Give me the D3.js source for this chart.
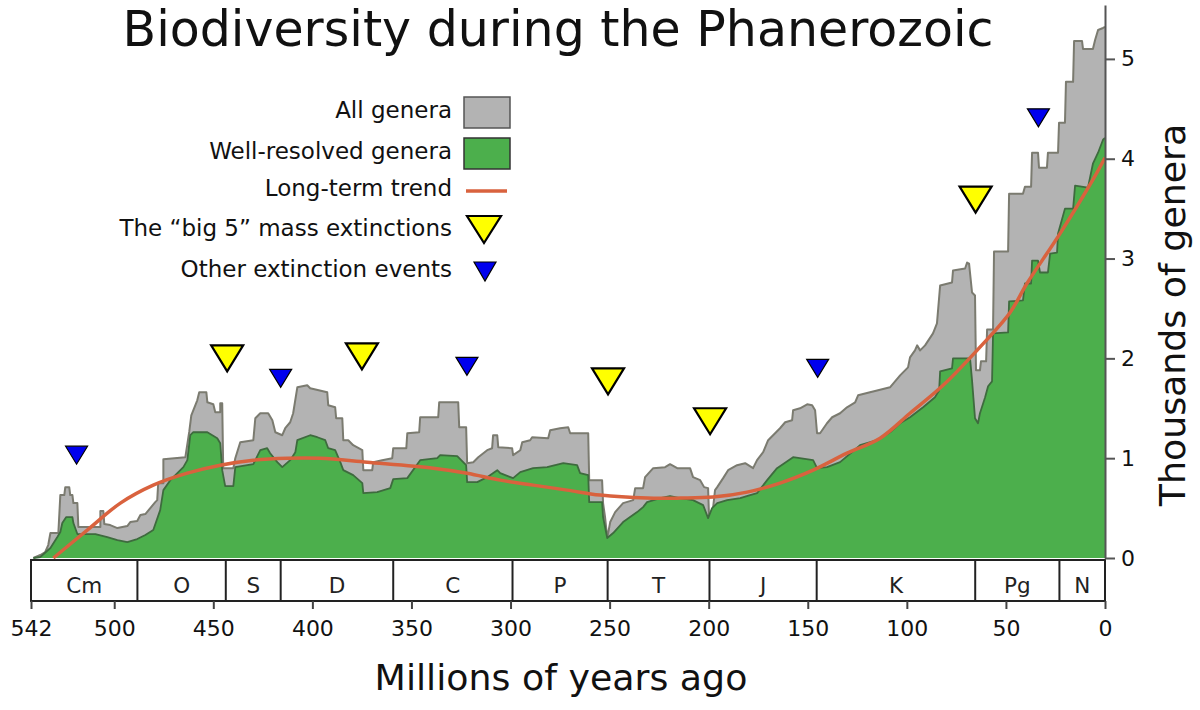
<!DOCTYPE html>
<html><head><meta charset="utf-8">
<script src="https://cdn.jsdelivr.net/npm/d3@7"></script>
<style>body{margin:0;background:#fff} svg{display:block} text{font-family:"DejaVu Sans",sans-serif}</style>
</head><body><svg id="c" width="1200" height="710"></svg>
<script>
// ---- data (Ma, thousands of genera) ----
const allGenera = [[540.8,0],[537.3,0.03],[534.8,0.06],[533.3,0.13],[532.2,0.25],[528.2,0.25],[527.2,0.63],[525.2,0.63],[524.7,0.71],[522.7,0.71],[522.2,0.63],[521.1,0.63],[520.6,0.55],[518.6,0.55],[518.1,0.31],[507.0,0.31],[507.0,0.47],[505.5,0.47],[505.0,0.34],[502.0,0.33],[498.4,0.30],[493.4,0.32],[491.9,0.36],[488.4,0.37],[486.8,0.43],[484.3,0.44],[481.8,0.50],[479.3,0.56],[478.3,0.58],[477.8,0.75],[475.2,0.75],[475.2,0.99],[464.1,1.01],[463.1,1.14],[462.1,1.27],[461.1,1.43],[460.1,1.48],[458.1,1.58],[457.1,1.66],[453.5,1.66],[453.0,1.56],[450.0,1.54],[449.0,1.46],[446.5,1.46],[446.5,1.55],[445.5,1.55],[445.0,0.90],[439.9,0.90],[438.9,1.00],[436.4,1.16],[429.8,1.18],[428.8,1.40],[426.3,1.45],[422.3,1.45],[420.2,1.38],[418.7,1.26],[415.2,1.23],[413.7,1.30],[411.2,1.36],[409.7,1.45],[407.6,1.71],[402.6,1.73],[401.1,1.70],[392.5,1.66],[392.0,1.53],[388.5,1.51],[388.0,1.40],[384.9,1.40],[384.4,1.18],[381.9,1.18],[379.4,1.13],[374.8,1.08],[374.3,0.88],[369.8,0.88],[369.3,0.96],[364.8,0.98],[359.7,1.00],[359.2,1.10],[352.6,1.10],[352.1,1.25],[346.1,1.26],[345.6,1.41],[336.5,1.41],[336.0,1.56],[326.4,1.56],[325.9,1.31],[322.4,1.31],[321.9,0.95],[318.8,0.96],[316.3,1.01],[311.8,1.08],[309.3,1.10],[308.8,1.23],[306.7,1.23],[306.2,1.11],[299.2,1.10],[298.7,1.03],[295.1,1.08],[294.1,1.16],[290.1,1.18],[289.1,1.21],[281.0,1.20],[280.0,1.28],[275.0,1.30],[270.9,1.31],[269.9,1.25],[260.8,1.25],[260.3,0.78],[253.8,0.78],[253.3,0.55],[252.3,0.41],[251.2,0.20],[249.7,0.36],[247.2,0.46],[243.2,0.55],[238.1,0.58],[237.1,0.70],[233.1,0.70],[232.1,0.81],[228.0,0.90],[222.0,0.91],[219.5,0.94],[215.9,0.90],[209.4,0.90],[207.9,0.81],[204.3,0.78],[202.3,0.71],[200.3,0.70],[199.8,0.40],[197.8,0.50],[196.8,0.68],[195.7,0.71],[192.7,0.80],[190.2,0.88],[185.7,0.93],[181.6,0.95],[177.6,0.90],[175.6,0.98],[172.5,1.06],[170.0,1.18],[167.5,1.23],[164.0,1.30],[161.4,1.36],[157.9,1.38],[157.4,1.48],[153.9,1.50],[150.3,1.54],[147.8,1.53],[146.3,1.48],[145.3,1.25],[143.8,1.25],[140.3,1.35],[137.7,1.41],[133.7,1.45],[130.2,1.51],[126.1,1.56],[124.6,1.63],[118.6,1.66],[114.5,1.68],[108.5,1.71],[103.4,1.83],[99.4,1.91],[98.4,2.01],[95.9,2.08],[94.8,2.13],[93.3,2.08],[90.8,2.13],[86.8,2.25],[84.8,2.35],[83.2,2.73],[77.2,2.76],[76.7,2.88],[70.6,2.90],[69.6,2.96],[68.6,2.95],[67.1,2.66],[65.6,2.63],[65.1,1.88],[63.1,1.88],[62.6,1.97],[60.0,1.97],[59.5,2.29],[56.5,2.29],[56.0,3.07],[48.9,3.07],[48.4,3.65],[41.4,3.65],[40.4,3.72],[37.3,3.72],[36.8,4.06],[33.8,4.06],[33.3,3.91],[29.3,3.91],[28.8,4.06],[23.7,4.06],[23.2,4.36],[20.2,4.36],[19.7,4.77],[16.1,4.77],[15.6,5.18],[11.6,5.18],[11.1,5.10],[6.1,5.10],[5.0,5.19],[3.5,5.29],[1.0,5.31],[0,5.32]];

const wellResolved = [[540.8,0],[537.3,0.01],[532.2,0.10],[528.7,0.21],[527.2,0.26],[526.2,0.35],[524.2,0.41],[521.1,0.41],[520.6,0.35],[518.6,0.24],[509.5,0.24],[503.5,0.21],[498.4,0.18],[493.4,0.16],[488.4,0.19],[484.3,0.23],[480.3,0.28],[476.8,0.48],[475.2,0.68],[471.7,0.78],[465.1,0.91],[463.1,0.98],[461.6,1.23],[460.1,1.26],[453.0,1.26],[448.0,1.20],[446.5,1.15],[445.5,0.88],[444.0,0.72],[439.9,0.72],[438.9,0.91],[429.8,0.94],[426.3,1.08],[422.8,1.10],[421.3,1.05],[417.7,0.96],[415.2,0.91],[411.2,0.98],[408.6,1.06],[407.6,1.18],[401.1,1.23],[397.5,1.21],[393.5,1.18],[392.0,1.10],[388.5,1.08],[385.9,0.96],[384.4,0.88],[379.4,0.83],[374.8,0.75],[374.3,0.65],[367.3,0.66],[360.7,0.70],[359.2,0.79],[352.1,0.80],[345.6,0.98],[337.0,1.00],[335.5,1.03],[326.9,1.02],[322.4,0.93],[321.9,0.76],[316.8,0.76],[311.8,0.81],[306.7,0.88],[305.2,0.85],[298.7,0.80],[295.1,0.86],[288.6,0.90],[281.5,0.91],[273.4,0.95],[266.4,0.93],[264.9,0.85],[260.8,0.83],[260.3,0.56],[253.8,0.56],[253.3,0.41],[251.2,0.20],[248.2,0.25],[243.2,0.36],[236.1,0.46],[233.1,0.51],[231.1,0.56],[224.5,0.60],[219.5,0.62],[214.4,0.60],[207.9,0.58],[202.8,0.53],[200.3,0.40],[198.3,0.50],[195.7,0.55],[190.7,0.58],[184.1,0.60],[179.1,0.63],[175.6,0.65],[170.5,0.78],[165.5,0.90],[157.4,1.01],[147.3,0.98],[145.3,0.90],[140.3,0.91],[133.7,0.96],[123.6,1.13],[115.0,1.18],[108.5,1.26],[103.4,1.35],[98.4,1.41],[91.8,1.51],[85.8,1.61],[83.7,1.68],[83.2,1.87],[77.2,1.90],[76.7,2.00],[68.1,2.00],[67.1,1.78],[65.6,1.40],[64.1,1.35],[63.1,1.45],[60.5,1.61],[59.0,1.72],[57.0,1.77],[56.5,2.25],[48.9,2.26],[48.4,2.57],[41.4,2.58],[40.4,2.75],[37.3,2.75],[36.8,2.98],[33.8,2.98],[32.8,2.86],[28.8,2.86],[27.7,3.05],[24.2,3.06],[23.7,3.25],[20.2,3.50],[16.1,3.50],[15.1,3.73],[8.6,3.71],[6.1,3.95],[3.5,4.06],[1.0,4.19],[0,4.21]];

const trend = [[530.7,0],[513.6,0.28],[496.9,0.55],[480.3,0.73],[463.1,0.85],[446.5,0.93],[429.8,0.98],[412.7,1.00],[396.0,1.00],[372.3,0.96],[339.0,0.90],[321.9,0.85],[305.2,0.78],[288.6,0.73],[271.4,0.68],[254.8,0.63],[231.1,0.60],[214.4,0.60],[197.8,0.61],[180.6,0.66],[164.0,0.75],[147.3,0.88],[130.2,1.05],[113.5,1.20],[98.4,1.45],[81.7,1.73],[64.6,2.08],[47.9,2.46],[39.4,2.75],[22.7,3.25],[6.1,3.79],[0,4.01]];

const bigFive = [[443,2.13],[375,2.15],[250.8,1.90],[199.3,1.50],[65.3,3.72]];   // [Ma, top of marker]
const otherEvents = [[519,1.12],[416,1.89],[322,2.01],[145,1.99],[33.6,4.50]];

const periodNames = ["Cm","O","S","D","C","P","T","J","K","Pg","N"];
const periodBounds = [542,488.3,443.7,416,359.2,299,251,199.6,145.5,65.5,23,0];
const xTicks = [542,500,450,400,350,300,250,200,150,100,50,0];
const yTicks = [0,1,2,3,4,5];

const legendLabels = ["All genera","Well-resolved genera","Long-term trend","The \u201cbig 5\u201d mass extinctions","Other extinction events"];

// ---- drawing ----
const svg = d3.select("#c");
const x = d3.scaleLinear().domain([542,0]).range([31,1105]);
const y = d3.scaleLinear().domain([0,5.54]).range([558,5]);

const GRAY="#b3b3b3", GRAYS="#7b7b70", GREEN="#4caf4c", GREENS="#3e6b3e", RED="#d9623e", YEL="#ffff00", BLUE="#0000ee";

const area = d3.area().x(d=>x(d[0])).y0(y(0)).y1(d=>y(d[1]));
const line = d3.line().x(d=>x(d[0])).y(d=>y(d[1]));

svg.append("path").attr("d",area(allGenera)).attr("fill",GRAY);
svg.append("path").attr("d",line(allGenera)).attr("fill","none").attr("stroke",GRAYS).attr("stroke-width",2).attr("stroke-linejoin","round");
svg.append("path").attr("d",area(wellResolved)).attr("fill",GREEN);
svg.append("path").attr("d",line(wellResolved)).attr("fill","none").attr("stroke",GREENS).attr("stroke-width",1.8).attr("stroke-linejoin","round");

svg.append("path").attr("d",d3.line().x(d=>x(d[0])).y(d=>y(d[1])).curve(d3.curveCatmullRom)(trend))
  .attr("fill","none").attr("stroke",RED).attr("stroke-width",3.5);

function tri(cx, top, w, h){ return `M${cx-w/2},${top}L${cx+w/2},${top}L${cx},${top+h}Z`; }
svg.selectAll(".big").data(bigFive).join("path").attr("d",d=>tri(x(d[0]),y(d[1]),32,26))
  .attr("fill",YEL).attr("stroke","#000").attr("stroke-width",2.2).attr("stroke-linejoin","miter");
svg.selectAll(".oth").data(otherEvents).join("path").attr("d",d=>tri(x(d[0]),y(d[1]),22,18))
  .attr("fill",BLUE).attr("stroke","#000").attr("stroke-width",1.2);

// period band
const bandTop=560, bandBot=601;
svg.append("rect").attr("x",x(542)).attr("y",bandTop).attr("width",x(0)-x(542)).attr("height",bandBot-bandTop)
  .attr("fill","#fff").attr("stroke","#222").attr("stroke-width",2);
svg.selectAll(".pb").data(periodBounds.slice(1,-1)).join("line")
  .attr("x1",d=>x(d)).attr("x2",d=>x(d)).attr("y1",bandTop).attr("y2",bandBot).attr("stroke","#222").attr("stroke-width",2);
svg.selectAll(".pn").data(periodNames).join("text")
  .attr("x",(d,i)=>(x(periodBounds[i])+x(periodBounds[i+1]))/2).attr("y",593)
  .attr("text-anchor","middle").attr("font-size",21.5).attr("fill","#222").text(d=>d);

// x axis
const gx = svg.append("g").attr("transform",`translate(0,${bandBot})`)
  .call(d3.axisBottom(x).tickValues(xTicks).tickFormat(d3.format("d")).tickSize(8).tickSizeOuter(0).tickPadding(11));
gx.select(".domain").remove();
gx.selectAll(".tick line").attr("stroke","#444").attr("stroke-width",2);
gx.selectAll("text").attr("font-size",22).attr("fill","#111").attr("font-family","DejaVu Sans");

// y axis
const gy = svg.append("g").attr("transform",`translate(${x(0)},0)`)
  .call(d3.axisRight(y).tickValues(yTicks).tickFormat(d3.format("d")).tickSize(10).tickSizeOuter(0).tickPadding(6));
gy.select(".domain").attr("stroke","#555").attr("stroke-width",2);
gy.selectAll(".tick line").attr("stroke","#555").attr("stroke-width",2);
gy.selectAll("text").attr("font-size",22).attr("fill","#111").attr("font-family","DejaVu Sans");

// titles
svg.append("text").attr("x",558).attr("y",46).attr("text-anchor","middle").attr("font-size",49).attr("fill","#111").text("Biodiversity during the Phanerozoic");
svg.append("text").attr("x",561).attr("y",690).attr("text-anchor","middle").attr("font-size",36.3).attr("fill","#111").text("Millions of years ago");
svg.append("text").attr("transform","translate(1185,315) rotate(-90)").attr("text-anchor","middle").attr("font-size",36.3).attr("fill","#111").text("Thousands of genera");

// legend
const lgY=[118,159,196,236,277];
svg.selectAll(".lg").data(legendLabels).join("text").attr("x",452).attr("y",(d,i)=>lgY[i])
  .attr("text-anchor","end").attr("font-size",23).attr("fill","#111").text(d=>d);
svg.append("rect").attr("x",464).attr("y",97).attr("width",46).attr("height",31).attr("fill",GRAY).attr("stroke","#555").attr("stroke-width",1.5);
svg.append("rect").attr("x",464).attr("y",138).attr("width",46).attr("height",31).attr("fill",GREEN).attr("stroke","#333").attr("stroke-width",1.5);
svg.append("line").attr("x1",466).attr("x2",507).attr("y1",191).attr("y2",191).attr("stroke",RED).attr("stroke-width",3.5);
svg.append("path").attr("d",tri(484,216,34,27)).attr("fill",YEL).attr("stroke","#000").attr("stroke-width",2.2);
svg.append("path").attr("d",tri(485,262,22,19)).attr("fill",BLUE).attr("stroke","#000").attr("stroke-width",1.2);
</script></body></html>
